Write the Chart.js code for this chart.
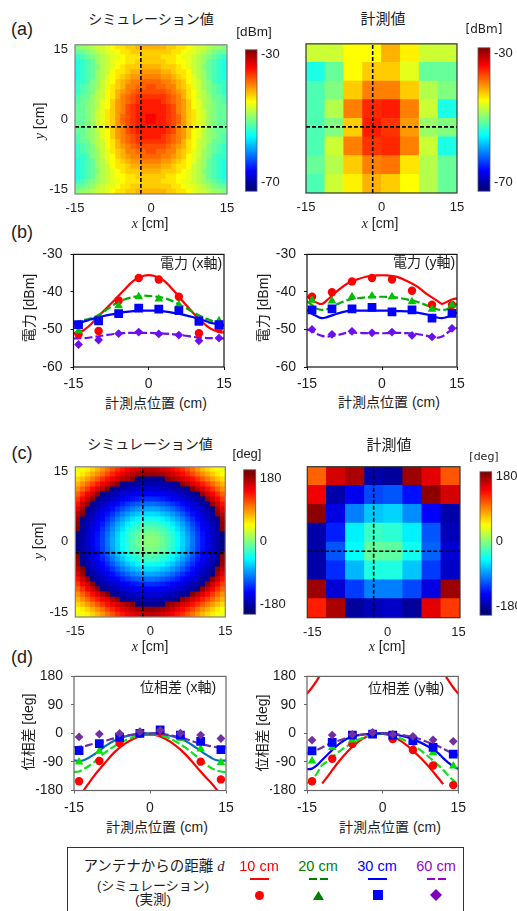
<!DOCTYPE html>
<html lang="ja">
<head>
<meta charset="utf-8">
<title>電力と位相差の分布</title>
<script src="https://cdn.jsdelivr.net/npm/chart.js@4"></script>
<style>
  html, body { margin: 0; padding: 0; width: 517px; height: 911px; overflow: hidden; background: #fff; }
  body { position: relative; font-family: "Liberation Sans", "Noto Sans CJK JP", sans-serif; color: #1c1c1c; }
  canvas { position: absolute; }
  .t { position: absolute; transform: translate(-50%, -50%); white-space: nowrap; font-size: 14px; line-height: 1; z-index: 5; }
  .r { transform: translate(-50%, -50%) rotate(-90deg); }
  .t i { font-family: "Liberation Serif", serif; }
  .panel { font-size: 18px; }
  #legendBox { position: absolute; left: 67px; top: 847px; width: 397px; height: 80px; border: 1.5px solid #333; box-sizing: border-box; }
  .sw { position: absolute; }
</style>
</head>
<body>

<div class="t panel" style="left:22px;top:29px">(a)</div>
<div class="t panel" style="left:22px;top:232px">(b)</div>
<div class="t panel" style="left:22px;top:453px">(c)</div>
<div class="t panel" style="left:22px;top:657px">(d)</div>

<div class="t" style="left:151px;top:19px">シミュレーション値</div>
<div class="t" style="left:383px;top:18px;font-size:15px">計測値</div>
<div class="t" style="left:254px;top:32px;font-size:13.5px">[dBm]</div>
<div class="t" style="left:484px;top:29px;font-size:12px;font-family:'DejaVu Sans'">[dBm]</div>
<div class="t" style="left:150px;top:223px"><i>x</i> [cm]</div>
<div class="t" style="left:380px;top:223px"><i>x</i> [cm]</div>
<div class="t r" style="left:39px;top:121px"><i>y</i> [cm]</div>

<div class="t r" style="left:29px;top:308px">電力 [dBm]</div>
<div class="t r" style="left:263px;top:308px">電力 [dBm]</div>
<div class="t" style="left:191px;top:263px">電力 (x軸)</div>
<div class="t" style="left:424px;top:262px">電力 (y軸)</div>
<div class="t" style="left:156px;top:403px">計測点位置 (cm)</div>
<div class="t" style="left:389px;top:402px">計測点位置 (cm)</div>

<div class="t" style="left:150px;top:444px">シミュレーション値</div>
<div class="t" style="left:389px;top:444px;font-size:15px">計測値</div>
<div class="t" style="left:247px;top:453px;font-size:13px">[deg]</div>
<div class="t" style="left:484px;top:456px;font-size:11px;font-family:'DejaVu Sans'">[deg]</div>
<div class="t" style="left:150px;top:646px"><i>x</i> [cm]</div>
<div class="t" style="left:387px;top:646px"><i>x</i> [cm]</div>
<div class="t r" style="left:38px;top:541px"><i>y</i> [cm]</div>

<div class="t r" style="left:28px;top:732px">位相差 [deg]</div>
<div class="t r" style="left:262px;top:733px">位相差 [deg]</div>
<div class="t" style="left:178px;top:687px">位相差 (x軸)</div>
<div class="t" style="left:406px;top:688px">位相差 (y軸)</div>
<div class="t" style="left:157px;top:827px">計測点位置 (cm)</div>
<div class="t" style="left:390px;top:827px">計測点位置 (cm)</div>

<div id="legendBox"></div>
<div class="t" style="left:154px;top:866px;font-size:14.5px">アンテナからの距離 <i>d</i></div>
<div class="t" style="left:153px;top:885px;font-size:13px">(シミュレーション)</div>
<div class="t" style="left:153px;top:900px;font-size:13.5px">(実測)</div>
<div class="t" style="left:259px;top:866px;font-size:14.5px;color:#ff0000">10 cm</div>
<div class="t" style="left:318px;top:866px;font-size:14.5px;color:#008000">20 cm</div>
<div class="t" style="left:377px;top:866px;font-size:14.5px;color:#0000ff">30 cm</div>
<div class="t" style="left:436px;top:866px;font-size:14.5px;color:#9900cc">60 cm</div>
<div class="sw" style="left:250px;top:878px;width:19px;height:2px;background:#ff0000"></div>
<div class="sw" style="left:309px;top:878px;width:8px;height:2px;background:#008000"></div>
<div class="sw" style="left:320px;top:878px;width:8px;height:2px;background:#008000"></div>
<div class="sw" style="left:368px;top:878px;width:19px;height:2px;background:#0000ff"></div>
<div class="sw" style="left:427px;top:878px;width:8px;height:2px;background:#9900cc"></div>
<div class="sw" style="left:438px;top:878px;width:8px;height:2px;background:#9900cc"></div>
<div class="sw" style="left:255px;top:891px;width:9px;height:9px;border-radius:50%;background:#ff0000"></div>
<div class="sw" style="left:313px;top:891px;width:11px;height:9px;background:#008000;clip-path:polygon(50% 0,100% 100%,0 100%)"></div>
<div class="sw" style="left:373px;top:890px;width:10px;height:10px;background:#0000ff"></div>
<div class="sw" style="left:430px;top:889px;width:12px;height:12px;background:#8000c0;clip-path:polygon(50% 0,100% 50%,50% 100%,0 50%)"></div>

<canvas id="mapPowerSim"></canvas>
<canvas id="mapPowerMeas"></canvas>
<canvas id="barPowerSim"></canvas>
<canvas id="barPowerMeas"></canvas>
<canvas id="linePowerX"></canvas>
<canvas id="linePowerY"></canvas>
<canvas id="mapPhaseSim"></canvas>
<canvas id="mapPhaseMeas"></canvas>
<canvas id="barPhaseSim"></canvas>
<canvas id="barPhaseMeas"></canvas>
<canvas id="linePhaseX"></canvas>
<canvas id="linePhaseY"></canvas>

<script>
// positions of the curves and of the measuring points (cm)
const simX = [-15,-14,-13,-12,-11,-9,-7,-5,-3,-1,1,3,5,7,9,11,12,13,14,15];
const measX = [-14,-10,-6,-2,2,6,10,14];

// (b) power along x
const pxSim10 = [-51,-50.7,-50.2,-49.2,-47.9,-45.1,-42.4,-39.6,-37,-35.7,-35.7,-37,-39.7,-42.8,-45.8,-48.4,-49.5,-50.2,-50.7,-50.8];
const pxSim20 = [-48.3,-47.9,-47.5,-47.2,-46.8,-45.3,-43.4,-42.1,-41.3,-41,-41.2,-41.6,-42.6,-44,-45.5,-46.9,-47.4,-47.9,-48.3,-48.5];
const pxSim30 = [-48.4,-48.1,-47.9,-47.5,-47.1,-46.4,-45.9,-45.4,-45.1,-45,-45,-45.2,-45.6,-46.1,-46.8,-47.6,-48.1,-48.4,-48.7,-49];
const pxSim60 = [-52.4,-52.35,-52.3,-52.2,-52,-51.6,-51.2,-50.95,-50.9,-50.9,-50.95,-51.1,-51.3,-51.6,-52,-52.25,-52.3,-52.35,-52.4,-52.4];
const pxMeas10 = [-51.3,-50.4,-42.3,-36.3,-36.7,-41.3,-51,-49.7];
const pxMeas20 = [-50.4,-47.4,-43.7,-41.3,-41.9,-43.5,-48.4,-47.7];
const pxMeas30 = [-48.7,-47.7,-45.8,-44.3,-44.6,-45,-47.7,-48.7];
const pxMeas60 = [-54,-52.8,-51.1,-50.7,-51.2,-51.5,-53,-52.3];

// (b) power along y
const pySim10 = [-41.1,-42.2,-42.9,-43.2,-42.2,-39.8,-37.8,-36.7,-35.9,-35.6,-35.6,-36,-37.1,-38.5,-40.6,-42.3,-43.2,-42.6,-42,-41.7];
const pySim20 = [-42.5,-43.5,-44.5,-44.8,-44.6,-43.3,-42.2,-41.7,-41.4,-41.3,-41.3,-41.5,-42,-42.6,-43.6,-44.6,-44.8,-44.6,-43.8,-43.2];
const pySim30 = [-44.8,-45.8,-46.5,-47,-46.7,-45.8,-45.1,-45,-45,-45,-45,-45.1,-45.2,-45.5,-46,-46.8,-47,-46.7,-45.9,-45.5];
const pySim60 = [-50,-50.4,-51.2,-51.7,-51.9,-51.5,-50.9,-50.9,-51,-51,-51,-50.9,-51,-51.2,-51.7,-52.2,-51.9,-51,-50,-49.6];
const pyMeas10 = [-41.3,-40.1,-37.2,-36.3,-36.7,-39.7,-43.4,-43.5];
const pyMeas20 = [-42.2,-42.4,-41.3,-41.1,-41.3,-42.6,-44.6,-43.5];
const pyMeas30 = [-44.8,-44.5,-44.5,-44.1,-45.3,-44.8,-47,-45.7];
const pyMeas60 = [-50,-51.3,-50.5,-50.9,-50.7,-51.6,-52,-49.7];

// (d) phase along x
const phxSim10 = [-230,-205,-178,-155,-133,-95,-59,-33,-15,-5,-5,-17,-38,-66,-102,-138,-155,-174,-195,-220];
const phxSim20 = [-122,-120,-112,-102,-90,-62,-40,-23,-10,-3,-3,-10,-25,-45,-70,-97,-108,-116,-120,-123];
const phxSim30 = [-85,-87,-84,-76,-66,-42,-22,-10,-3,0,0,-4,-12,-24,-44,-66,-76,-84,-86,-85];
const phxSim60 = [-43,-42,-40,-36,-32,-24,-15,-8,-3,0,0,-3,-9,-17,-28,-37,-40,-43,-44,-44];
const phxMeas10 = [-151,-87,-30,0,5,-10,-89,-145];
const phxMeas20 = [-90,-56,-18,-2,6,-15,-49,-92];
const phxMeas30 = [-54,-32,-12,0,11,-5,-25,-51];
const phxMeas60 = [-11,-2,0,6,10,1,-5,-16];

// (d) phase along y, the 10 cm curve wraps round at the edges
const phySim10 = [null,null,null,-158,-138,-95,-58,-28,-9,-1,-4,-18,-40,-69,-102,-140,-160,null,null,null];
const phyWrapX = [-15,-14,-13,-12,0,12,13,14,15];
const phyWrap10 = [125,145,168,195,null,195,168,145,125];
const phySim20 = [-158,-145,-125,-100,-88,-62,-39,-21,-9,-2,-3,-12,-27,-47,-72,-100,-115,-132,-148,-162];
const phySim30 = [-113,-111,-100,-84,-68,-38,-16,-6,-2,0,0,-5,-13,-25,-41,-62,-78,-92,-104,-112];
const phySim60 = [-62,-60,-52,-44,-36,-24,-14,-6,-2,0,0,-3,-8,-16,-28,-40,-48,-56,-64,-68];
const phyMeas10 = [-151,-80,-33,-1,-18,-52,-101,-163];
const phyMeas20 = [-87,-44,-21,-1,-4,-28,-61,-103];
const phyMeas30 = [-55,-28,-5,-2,-5,-23,-44,-65];
const phyMeas60 = [-21,-5,-3,3,-3,-9,-20,-25];

// cell centres of the maps (cm)
const simCellsX = [-14.5,-13.5,-12.5,-11.5,-10.5,-9.5,-8.5,-7.5,-6.5,-5.5,-4.5,-3.5,-2.5,-1.5,-0.5,0.5,1.5,2.5,3.5,4.5,5.5,6.5,7.5,8.5,9.5,10.5,11.5,12.5,13.5,14.5];
const simCellsY = [14.5,13.5,12.5,11.5,10.5,9.5,8.5,7.5,6.5,5.5,4.5,3.5,2.5,1.5,0.5,-0.5,-1.5,-2.5,-3.5,-4.5,-5.5,-6.5,-7.5,-8.5,-9.5,-10.5,-11.5,-12.5,-13.5,-14.5];
const measCellsX = [-13.125,-9.375,-5.625,-1.875,1.875,5.625,9.375,13.125];
const measCellsY = [13.125,9.375,5.625,1.875,-1.875,-5.625,-9.375,-13.125];

// (a) simulated power map [dBm], top row first
const powerSim = [
[-50,-49,-49,-48,-47,-47,-46,-45,-44,-44,-43,-43,-42,-42,-42,-42,-42,-42,-43,-43,-44,-44,-45,-46,-47,-47,-48,-49,-49,-50],
[-51,-51,-50,-49,-48,-47,-46,-46,-45,-44,-44,-43,-43,-43,-43,-43,-43,-43,-43,-44,-44,-45,-46,-46,-47,-48,-49,-50,-51,-51],
[-53,-52,-51,-50,-49,-48,-47,-46,-46,-45,-44,-44,-44,-43,-43,-43,-43,-44,-44,-44,-45,-46,-46,-47,-48,-49,-50,-51,-52,-53],
[-54,-53,-52,-51,-49,-48,-47,-46,-45,-45,-44,-44,-43,-43,-43,-43,-43,-43,-44,-44,-45,-45,-46,-47,-48,-49,-51,-52,-53,-54],
[-54,-53,-52,-51,-50,-48,-47,-46,-45,-44,-43,-43,-43,-42,-42,-42,-42,-43,-43,-43,-44,-45,-46,-47,-48,-50,-51,-52,-53,-54],
[-54,-53,-52,-51,-49,-48,-47,-45,-44,-44,-43,-42,-42,-41,-41,-41,-41,-42,-42,-43,-44,-44,-45,-47,-48,-49,-51,-52,-53,-54],
[-54,-53,-52,-51,-49,-48,-46,-45,-44,-43,-42,-41,-41,-40,-40,-40,-40,-41,-41,-42,-43,-44,-45,-46,-48,-49,-51,-52,-53,-54],
[-53,-53,-52,-50,-49,-47,-46,-45,-43,-42,-41,-40,-40,-39,-39,-39,-39,-40,-40,-41,-42,-43,-45,-46,-47,-49,-50,-52,-53,-53],
[-53,-52,-51,-50,-49,-47,-46,-44,-43,-42,-40,-40,-39,-39,-38,-38,-39,-39,-40,-40,-42,-43,-44,-46,-47,-49,-50,-51,-52,-53],
[-53,-52,-51,-50,-48,-47,-45,-44,-42,-41,-40,-39,-38,-38,-38,-38,-38,-38,-39,-40,-41,-42,-44,-45,-47,-48,-50,-51,-52,-53],
[-52,-51,-51,-49,-48,-47,-45,-44,-42,-40,-39,-38,-37,-37,-37,-37,-37,-37,-38,-39,-40,-42,-44,-45,-47,-48,-49,-51,-51,-52],
[-52,-51,-50,-49,-48,-46,-45,-43,-41,-40,-39,-38,-37,-36,-36,-36,-36,-37,-38,-39,-40,-41,-43,-45,-46,-48,-49,-50,-51,-52],
[-51,-51,-50,-49,-48,-46,-45,-43,-41,-40,-38,-37,-36,-36,-36,-36,-36,-36,-37,-38,-40,-41,-43,-45,-46,-48,-49,-50,-51,-51],
[-51,-51,-50,-49,-47,-46,-44,-43,-41,-40,-38,-37,-36,-36,-36,-36,-36,-36,-37,-38,-40,-41,-43,-44,-46,-47,-49,-50,-51,-51],
[-51,-51,-50,-49,-47,-46,-44,-43,-41,-39,-38,-37,-36,-36,-35,-35,-36,-36,-37,-38,-39,-41,-43,-44,-46,-47,-49,-50,-51,-51],
[-51,-51,-50,-49,-47,-46,-44,-43,-41,-39,-38,-37,-36,-36,-35,-35,-36,-36,-37,-38,-39,-41,-43,-44,-46,-47,-49,-50,-51,-51],
[-51,-51,-50,-49,-47,-46,-44,-43,-41,-40,-38,-37,-36,-36,-36,-36,-36,-36,-37,-38,-40,-41,-43,-44,-46,-47,-49,-50,-51,-51],
[-51,-51,-50,-49,-48,-46,-45,-43,-41,-40,-38,-37,-36,-36,-36,-36,-36,-36,-37,-38,-40,-41,-43,-45,-46,-48,-49,-50,-51,-51],
[-52,-51,-50,-49,-48,-46,-45,-43,-41,-40,-39,-38,-37,-36,-36,-36,-36,-37,-38,-39,-40,-41,-43,-45,-46,-48,-49,-50,-51,-52],
[-52,-51,-51,-49,-48,-47,-45,-44,-42,-40,-39,-38,-37,-37,-37,-37,-37,-37,-38,-39,-40,-42,-44,-45,-47,-48,-49,-51,-51,-52],
[-53,-52,-51,-50,-48,-47,-45,-44,-42,-41,-40,-39,-38,-38,-38,-38,-38,-38,-39,-40,-41,-42,-44,-45,-47,-48,-50,-51,-52,-53],
[-53,-52,-51,-50,-49,-47,-46,-44,-43,-42,-40,-40,-39,-39,-38,-38,-39,-39,-40,-40,-42,-43,-44,-46,-47,-49,-50,-51,-52,-53],
[-53,-53,-52,-50,-49,-47,-46,-45,-43,-42,-41,-40,-40,-39,-39,-39,-39,-40,-40,-41,-42,-43,-45,-46,-47,-49,-50,-52,-53,-53],
[-54,-53,-52,-51,-49,-48,-46,-45,-44,-43,-42,-41,-41,-40,-40,-40,-40,-41,-41,-42,-43,-44,-45,-46,-48,-49,-51,-52,-53,-54],
[-54,-53,-52,-51,-49,-48,-47,-45,-44,-44,-43,-42,-42,-41,-41,-41,-41,-42,-42,-43,-44,-44,-45,-47,-48,-49,-51,-52,-53,-54],
[-54,-53,-52,-51,-50,-48,-47,-46,-45,-44,-43,-43,-43,-42,-42,-42,-42,-43,-43,-43,-44,-45,-46,-47,-48,-50,-51,-52,-53,-54],
[-54,-53,-52,-51,-49,-48,-47,-46,-45,-45,-44,-44,-43,-43,-43,-43,-43,-43,-44,-44,-45,-45,-46,-47,-48,-49,-51,-52,-53,-54],
[-53,-52,-51,-50,-49,-48,-47,-46,-46,-45,-44,-44,-44,-43,-43,-43,-43,-44,-44,-44,-45,-46,-46,-47,-48,-49,-50,-51,-52,-53],
[-51,-51,-50,-49,-48,-47,-46,-46,-45,-44,-44,-43,-43,-43,-43,-43,-43,-43,-43,-44,-44,-45,-46,-46,-47,-48,-49,-50,-51,-51],
[-50,-49,-49,-48,-47,-47,-46,-45,-44,-44,-43,-43,-42,-42,-42,-42,-42,-42,-43,-43,-44,-44,-45,-46,-47,-47,-48,-49,-49,-50]
];

// (a) measured power map [dBm]
const powerMeas = [
[-47,-47,-45,-45,-42,-44.5,-47,-47],
[-54,-51,-45,-43,-43,-46,-51,-51],
[-52,-50,-43,-40,-40,-43,-48,-50],
[-52,-48,-40,-36.5,-36,-40,-47,-54],
[-52,-50,-43,-36,-37,-41,-49,-50],
[-52,-47,-40,-37,-36.5,-40,-47,-54],
[-51,-48,-43,-40,-39.5,-44,-48,-51],
[-52,-47,-44.5,-42,-43,-45,-48,-51]
];

// (c) simulated phase map [deg]
const phaseSim = [
[38,42,50,60,70,82,95,107,118,128,136,143,150,155,158,158,155,150,143,136,128,118,107,95,82,70,60,50,42,38],
[45,52,62,74,85,97,110,122,133,143,152,160,166,170,172,172,170,166,160,152,143,133,122,110,97,85,74,62,52,45],
[58,68,80,92,105,118,130,141,151,160,168,175,-178,-175,-172,-172,-175,-178,175,168,160,151,141,130,118,105,92,80,68,58],
[72,85,98,112,125,138,150,162,175,-177,-172,-168,-165,-163,-162,-162,-163,-165,-168,-172,-177,175,162,150,138,125,112,98,85,72],
[85,100,116,132,147,163,178,-174,-170,-165,-160,-156,-153,-151,-150,-150,-151,-153,-156,-160,-165,-170,-174,178,163,147,132,116,100,85],
[100,118,136,153,172,-176,-170,-164,-158,-152,-148,-144,-141,-139,-138,-138,-139,-141,-144,-148,-152,-158,-164,-170,-176,172,153,136,118,100],
[115,135,155,173,-174,-167,-160,-153,-147,-141,-136,-130,-125,-121,-119,-119,-121,-125,-130,-136,-141,-147,-153,-160,-167,-174,173,155,135,115],
[130,152,172,-175,-166,-157,-148,-141,-134,-124,-116,-109,-103,-99,-96,-96,-99,-103,-109,-116,-124,-134,-141,-148,-157,-166,-175,172,152,130],
[145,168,-176,-167,-157,-148,-140,-130,-118,-108,-98,-89,-83,-78,-76,-76,-78,-83,-89,-98,-108,-118,-130,-140,-148,-157,-167,-176,168,145],
[158,176,-170,-160,-150,-141,-130,-117,-104,-91,-81,-71,-65,-59,-57,-57,-59,-65,-71,-81,-91,-104,-117,-130,-141,-150,-160,-170,176,158],
[168,-175,-165,-154,-144,-134,-119,-105,-90,-77,-65,-55,-47,-41,-38,-38,-41,-47,-55,-65,-77,-90,-105,-119,-134,-144,-154,-165,-175,168],
[174,-171,-160,-149,-139,-125,-110,-93,-78,-64,-51,-40,-32,-26,-23,-23,-26,-32,-40,-51,-64,-78,-93,-110,-125,-139,-149,-160,-171,174],
[179,-168,-156,-145,-135,-118,-102,-85,-69,-54,-40,-29,-20,-15,-11,-11,-15,-20,-29,-40,-54,-69,-85,-102,-118,-135,-145,-156,-168,179],
[-177,-166,-154,-143,-130,-114,-96,-79,-62,-46,-32,-21,-12,-5,-1,-1,-5,-12,-21,-32,-46,-62,-79,-96,-114,-130,-143,-154,-166,-177],
[-176,-165,-153,-141,-128,-112,-93,-75,-59,-43,-29,-18,-7,0,4,4,0,-7,-18,-29,-43,-59,-75,-93,-112,-128,-141,-153,-165,-176],
[-176,-165,-153,-141,-128,-112,-93,-75,-59,-43,-29,-18,-7,0,4,4,0,-7,-18,-29,-43,-59,-75,-93,-112,-128,-141,-153,-165,-176],
[-177,-166,-154,-143,-130,-114,-96,-79,-62,-46,-32,-21,-12,-5,-1,-1,-5,-12,-21,-32,-46,-62,-79,-96,-114,-130,-143,-154,-166,-177],
[179,-168,-156,-145,-135,-118,-102,-85,-69,-54,-40,-29,-20,-15,-11,-11,-15,-20,-29,-40,-54,-69,-85,-102,-118,-135,-145,-156,-168,179],
[174,-171,-160,-149,-139,-125,-110,-93,-78,-64,-51,-40,-32,-26,-23,-23,-26,-32,-40,-51,-64,-78,-93,-110,-125,-139,-149,-160,-171,174],
[168,-175,-165,-154,-144,-134,-119,-105,-90,-77,-65,-55,-47,-41,-38,-38,-41,-47,-55,-65,-77,-90,-105,-119,-134,-144,-154,-165,-175,168],
[158,176,-170,-160,-150,-141,-130,-117,-104,-91,-81,-71,-65,-59,-57,-57,-59,-65,-71,-81,-91,-104,-117,-130,-141,-150,-160,-170,176,158],
[145,168,-176,-167,-157,-148,-140,-130,-118,-108,-98,-89,-83,-78,-76,-76,-78,-83,-89,-98,-108,-118,-130,-140,-148,-157,-167,-176,168,145],
[130,152,172,-175,-166,-157,-148,-141,-134,-124,-116,-109,-103,-99,-96,-96,-99,-103,-109,-116,-124,-134,-141,-148,-157,-166,-175,172,152,130],
[115,135,155,173,-174,-167,-160,-153,-147,-141,-136,-130,-125,-121,-119,-119,-121,-125,-130,-136,-141,-147,-153,-160,-167,-174,173,155,135,115],
[100,118,136,153,172,-176,-170,-164,-158,-152,-148,-144,-141,-139,-138,-138,-139,-141,-144,-148,-152,-158,-164,-170,-176,172,153,136,118,100],
[85,100,116,132,147,163,178,-174,-170,-165,-160,-156,-153,-151,-150,-150,-151,-153,-156,-160,-165,-170,-174,178,163,147,132,116,100,85],
[72,85,98,112,125,138,150,162,175,-177,-172,-168,-165,-163,-162,-162,-163,-165,-168,-172,-177,175,162,150,138,125,112,98,85,72],
[58,68,80,92,105,118,130,141,151,160,168,175,-178,-175,-172,-172,-175,-178,175,168,160,151,141,130,118,105,92,80,68,58],
[45,52,62,74,85,97,110,122,133,143,152,160,166,170,172,172,170,166,160,152,143,133,122,110,97,85,74,62,52,45],
[38,42,50,60,70,82,95,107,118,128,136,143,150,155,158,158,155,150,143,136,128,118,107,95,82,70,60,50,42,38]
];

// (c) measured phase map [deg]
const phaseMeas = [
[100,150,165,-165,-170,170,145,105],
[140,-165,-140,-110,-105,-130,175,150],
[175,-145,-90,-65,-60,-85,-135,-165],
[-165,-125,-50,-25,-30,-50,-105,-160],
[-165,-105,-45,-10,-12,-40,-100,-150],
[-165,-120,-70,-35,-35,-65,-115,-155],
[170,-150,-115,-90,-90,-110,-145,170],
[125,165,-170,-160,-155,-170,145,115]
];

Chart.defaults.font.family = '"Liberation Sans", "Noto Sans CJK JP", sans-serif';
Chart.defaults.color = '#1c1c1c';
Chart.defaults.animation = false;

const framePlugin = {
  id: 'frame',
  afterDatasetsDraw(chart, args, opts) {
    const a = chart.chartArea, ctx = chart.ctx;
    ctx.save();
    ctx.strokeStyle = opts.color;
    ctx.lineWidth = opts.width;
    ctx.strokeRect(a.left, a.top, a.right - a.left, a.bottom - a.top);
    ctx.restore();
  }
};

function jet(v, lo, hi) {
  const f = Math.min(1, Math.max(0, (v - lo) / (hi - lo)));
  const c = x => Math.round(255 * Math.min(1, Math.max(0, 1.5 - Math.abs(4 * f - x))));
  return `rgb(${c(3)},${c(2)},${c(1)})`;
}

// canvas is placed so that the plot area lands on the given rectangle
function placeCanvas(id, box) {
  const el = document.getElementById(id);
  el.width = box.r - box.l;
  el.height = box.b - box.t;
  el.style.width = el.width + 'px';
  el.style.height = el.height + 'px';
  el.style.left = box.l + 'px';
  el.style.top = box.t + 'px';
  return el;
}

function fixedTicks(values, labels) {
  return {
    after: s => { s.ticks = values.map(v => ({ value: v })); },
    callback: (v, i) => labels[i]
  };
}

// heat map: one square point for each cell, with the two cross lines on top
function drawMap(id, box, plot, cfg) {
  const cells = [];
  cfg.rows.forEach((row, r) => row.forEach((v, c) => cells.push({ x: cfg.xs[c], y: cfg.ys[r], v: v })));
  const xT = fixedTicks(cfg.xTicks, ['-15', '0', '15']);
  const yT = fixedTicks(cfg.yTicks || [], ['15', '0', '-15']);
  const cellSide = (plot.r - plot.l) / cfg.xs.length + 0.7;
  const noGrid = { display: false, drawTicks: false };
  const cross = pts => ({
    data: pts, showLine: true, pointRadius: 0, borderColor: '#000', borderWidth: 1.6, borderDash: [4, 2]
  });
  new Chart(placeCanvas(id, box), {
    type: 'scatter',
    data: {
      datasets: [
        cross([{ x: cfg.crossX, y: -15 }, { x: cfg.crossX, y: 15 }]),
        cross([{ x: -15, y: cfg.crossY }, { x: 15, y: cfg.crossY }]),
        {
          data: cells,
          pointStyle: 'rect',
          pointBorderWidth: 0,
          pointBackgroundColor: ctx => jet(ctx.raw.v, cfg.lo, cfg.hi),
          pointRadius: cellSide * Math.SQRT1_2
        }
      ]
    },
    options: {
      responsive: false,
      events: [],
      layout: { padding: { left: 0, top: plot.t - box.t, right: box.r - plot.r, bottom: 0 } },
      plugins: { legend: { display: false }, tooltip: { enabled: false }, frame: { color: cfg.frame, width: 1.2 } },
      scales: {
        x: {
          type: 'linear', min: -15, max: 15,
          grid: noGrid, border: { display: false },
          afterBuildTicks: xT.after,
          afterFit: s => { s.height = box.b - plot.b; },
          ticks: { callback: xT.callback, autoSkip: false, maxRotation: 0, padding: 7, font: { size: 13 } }
        },
        y: {
          type: 'linear', min: -15, max: 15,
          grid: noGrid, border: { display: false },
          afterBuildTicks: yT.after,
          afterFit: s => { s.width = plot.l - box.l; },
          ticks: { callback: yT.callback, autoSkip: false, padding: 7, font: { size: 13 } }
        }
      }
    },
    plugins: [framePlugin]
  });
}

// colour bar: one floating bar filled with the jet gradient
function drawBar(id, box, plot, cfg) {
  const yT = fixedTicks(cfg.ticks, cfg.ticks.map(String));
  const barY = v => plot.t - box.t + (cfg.max - v) / (cfg.max - cfg.min) * (plot.b - plot.t);
  new Chart(placeCanvas(id, box), {
    type: 'bar',
    data: {
      labels: [''],
      datasets: [{
        data: [[cfg.min, cfg.max]],
        barPercentage: 1,
        categoryPercentage: 1,
        backgroundColor: ctx => {
          const g = ctx.chart.ctx.createLinearGradient(0, barY(cfg.lo), 0, barY(cfg.hi));
          [[0, '#000080'], [0.125, '#0000ff'], [0.375, '#00ffff'], [0.625, '#ffff00'], [0.875, '#ff0000'], [1, '#800000']]
            .forEach(s => g.addColorStop(s[0], s[1]));
          return g;
        }
      }]
    },
    options: {
      responsive: false,
      events: [],
      layout: { padding: { left: plot.l - box.l, top: plot.t - box.t, right: 0, bottom: box.b - plot.b } },
      plugins: { legend: { display: false }, tooltip: { enabled: false }, frame: { color: '#555', width: 0.8 } },
      scales: {
        x: { display: false },
        y: {
          position: 'right', min: cfg.min, max: cfg.max,
          grid: { display: false, drawTicks: false }, border: { display: false },
          afterBuildTicks: yT.after,
          afterFit: s => { s.width = box.r - plot.r; },
          ticks: { callback: yT.callback, autoSkip: false, padding: 4, font: { size: 13 } }
        }
      }
    },
    plugins: [framePlugin]
  });
}

function xy(xs, ys) {
  return xs.map((x, i) => ({ x: x, y: ys[i] }));
}

function curve(ys, color, dash, xs) {
  return {
    data: xy(xs || simX, ys), showLine: true, pointRadius: 0, tension: 0.35,
    borderColor: color, borderWidth: 2.2, borderDash: dash ? [8, 3] : []
  };
}

function dots(ys, color, style, radius) {
  return {
    data: xy(measX, ys), showLine: false, pointStyle: style, pointRadius: radius,
    pointBackgroundColor: color, pointBorderColor: color, pointBorderWidth: 0
  };
}

function drawLines(id, box, plot, datasets, cfg) {
  const yT = fixedTicks(cfg.yTicks, cfg.yTicks.map(String));
  const xT = fixedTicks([-15, 0, 15], ['-15', '0', '15']);
  const grid = { display: true, drawOnChartArea: false, drawTicks: true, tickLength: 3, color: cfg.frame };
  new Chart(placeCanvas(id, box), {
    type: 'scatter',
    data: { datasets: datasets },
    options: {
      responsive: false,
      events: [],
      layout: { padding: { left: 0, top: plot.t - box.t, right: box.r - plot.r, bottom: 0 } },
      plugins: { legend: { display: false }, tooltip: { enabled: false }, frame: { color: cfg.frame, width: 1.2 } },
      scales: {
        x: {
          type: 'linear', min: -15, max: 15, grid: grid, border: { display: false },
          afterBuildTicks: xT.after,
          afterFit: s => { s.height = box.b - plot.b; },
          ticks: { callback: xT.callback, autoSkip: false, maxRotation: 0, padding: 6, font: { size: 14 } }
        },
        y: {
          type: 'linear', min: cfg.min, max: cfg.max, grid: grid, border: { display: false },
          afterBuildTicks: yT.after,
          afterFit: s => { s.width = plot.l - box.l; },
          ticks: { callback: yT.callback, autoSkip: false, padding: 8, font: { size: 14 } }
        }
      }
    },
    plugins: [framePlugin]
  });
}

// (a)
drawMap('mapPowerSim', { l: 40, t: 30, r: 242, b: 218 }, { l: 75, t: 44, r: 227, b: 194 }, {
  rows: powerSim, xs: simCellsX, ys: simCellsY, lo: -70, hi: -30, crossX: -2, crossY: -1.5,
  xTicks: [-15, 0, 15], yTicks: [14, 0, -14], frame: '#808080'
});
drawMap('mapPowerMeas', { l: 285, t: 30, r: 474, b: 218 }, { l: 306, t: 43, r: 457, b: 193 }, {
  rows: powerMeas, xs: measCellsX, ys: measCellsY, lo: -70, hi: -30, crossX: -1.75, crossY: -1.7,
  xTicks: [-15, 0, 15], frame: '#333'
});
drawBar('barPowerSim', { l: 245, t: 38, r: 287, b: 203 }, { l: 245.5, t: 45, r: 257, b: 197 }, {
  min: -72.6, max: -28.6, lo: -70, hi: -30, ticks: [-30, -70]
});
drawBar('barPowerMeas', { l: 477, t: 36, r: 517, b: 203 }, { l: 478, t: 42, r: 490, b: 197 }, {
  min: -72.6, max: -28.4, lo: -70, hi: -30, ticks: [-30, -70]
});

// (b)
const powerAxis = { min: -60, max: -30, yTicks: [-30, -40, -50, -60], frame: '#111' };
const green = '#00b000', violet = '#6a10f0';
drawLines('linePowerX', { l: 36, t: 238, r: 242, b: 392 }, { l: 73.5, t: 252, r: 224, b: 367 }, [
  dots(pxMeas60, violet, 'rectRot', 4.4),
  dots(pxMeas30, '#0000ff', 'rect', 6.2),
  dots(pxMeas20, '#00c000', 'triangle', 5),
  dots(pxMeas10, '#ff0000', 'circle', 4.2),
  curve(pxSim60, violet, true),
  curve(pxSim30, '#0000ff', false),
  curve(pxSim20, green, true),
  curve(pxSim10, '#ff0000', false)
], powerAxis);
drawLines('linePowerY', { l: 270, t: 238, r: 476, b: 392 }, { l: 307, t: 252, r: 457, b: 367 }, [
  dots(pyMeas60, violet, 'rectRot', 4.4),
  dots(pyMeas30, '#0000ff', 'rect', 6.2),
  dots(pyMeas20, '#00c000', 'triangle', 5),
  dots(pyMeas10, '#ff0000', 'circle', 4.2),
  curve(pySim60, violet, true),
  curve(pySim30, '#0000ff', false),
  curve(pySim20, green, true),
  curve(pySim10, '#ff0000', false)
], powerAxis);

// (c)
drawMap('mapPhaseSim', { l: 40, t: 452, r: 240, b: 640 }, { l: 75.3, t: 466, r: 225.3, b: 617 }, {
  rows: phaseSim, xs: simCellsX, ys: simCellsY, lo: -180, hi: 180, crossX: -1.5, crossY: -2.2,
  xTicks: [-15, 0, 15], yTicks: [14, 0, -14], frame: '#808080'
});
drawMap('mapPhaseMeas', { l: 285, t: 452, r: 476, b: 640 }, { l: 307.3, t: 466.7, r: 460, b: 617.7 }, {
  rows: phaseMeas, xs: measCellsX, ys: measCellsY, lo: -180, hi: 180, crossX: -1.96, crossY: -1.8,
  xTicks: [-14, 0.8, 14.7], frame: '#333'
});
drawBar('barPhaseSim', { l: 243, t: 458, r: 288, b: 626 }, { l: 243.7, t: 465, r: 255.7, b: 620 }, {
  min: -209, max: 204, lo: -180, hi: 180, ticks: [180, 0, -180]
});
drawBar('barPhaseMeas', { l: 479, t: 460, r: 525, b: 627 }, { l: 480, t: 467.7, r: 491.7, b: 620.7 }, {
  min: -205, max: 194, lo: -180, hi: 180, ticks: [180, 0, -180]
});

// (d)
const phaseAxis = { min: -180, max: 180, yTicks: [180, 90, 0, -90, -180], frame: '#666' };
const lime = '#10e020', plum = '#7030a0';
drawLines('linePhaseX', { l: 36, t: 660, r: 244, b: 816 }, { l: 74, t: 673.5, r: 226, b: 790.5 }, [
  dots(phxMeas60, plum, 'rectRot', 4.4),
  dots(phxMeas30, '#0000ff', 'rect', 6.2),
  dots(phxMeas20, '#00e000', 'triangle', 5),
  dots(phxMeas10, '#ff0000', 'circle', 4.2),
  curve(phxSim60, plum, true),
  curve(phxSim30, '#0070c0', false),
  curve(phxSim20, lime, true),
  curve(phxSim10, '#ff0000', false)
], phaseAxis);
drawLines('linePhaseY', { l: 270, t: 660, r: 476, b: 816 }, { l: 307, t: 674.5, r: 458.3, b: 790.5 }, [
  dots(phyMeas60, plum, 'rectRot', 4.4),
  dots(phyMeas30, '#0000ff', 'rect', 6.2),
  dots(phyMeas20, '#00e000', 'triangle', 5),
  dots(phyMeas10, '#ff0000', 'circle', 4.2),
  curve(phySim60, plum, true),
  curve(phySim30, '#0000ff', false),
  curve(phySim20, lime, true),
  curve(phySim10, '#ff0000', false),
  curve(phyWrap10, '#ff0000', false, phyWrapX)
], phaseAxis);
</script>
</body>
</html>
